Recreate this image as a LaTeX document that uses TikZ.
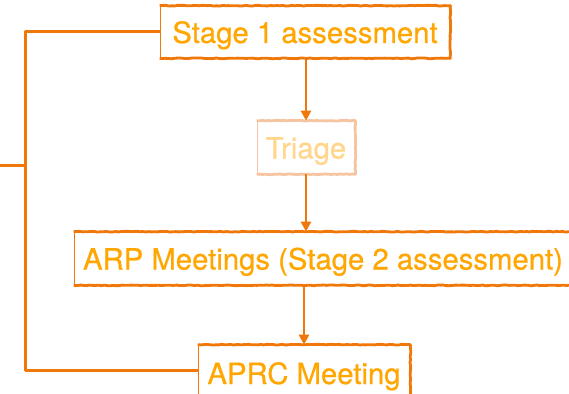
\documentclass[tikz,border=0pt]{standalone}
\usepackage{fontspec}
\setmainfont{TeX Gyre Heros}[FakeBold=0.6]
\usetikzlibrary{arrows.meta,decorations.pathmorphing}
\definecolor{lineC}{RGB}{240,120,10}
\definecolor{textC}{RGB}{255,166,0}
\definecolor{fadeLine}{RGB}{246,196,160}
\definecolor{fadeText}{RGB}{255,214,140}
\tikzset{
  boxx/.style={draw=lineC, line width=0.7pt, fill=white, text=textC, inner sep=0pt,
    text height=22pt, text depth=0pt,
    font=\fontsize{29.3}{32}\selectfont},
  edgeA/.style={draw=lineC, line width=2.8pt, line join=round,
    decorate, decoration={random steps, segment length=3pt, amplitude=0.4pt}},
  link/.style={draw=lineC, line width=2.8pt, -{Triangle[length=10pt,width=10pt]}},
  brk/.style={draw=lineC, line width=3pt, line join=round}
}
\begin{document}
\begin{tikzpicture}[x=1pt,y=-1pt]
\useasboundingbox (0,0) rectangle (569,393);
% nodes
\node[boxx, minimum width=290pt, minimum height=52pt] (s1) at (305,32) {Stage 1 assessment};
\node[boxx, draw=fadeLine, text=fadeText, minimum width=98pt, minimum height=53pt] (tri) at (306,147.5) {Triage};
\node[boxx, minimum width=498pt, minimum height=53pt] (arp) at (323,258.5) {ARP Meetings (Stage 2 assessment)};
\node[boxx, minimum width=212pt, minimum height=56pt] (aprc) at (304,373) {APRC Meeting};
% heavier sketch edges
\draw[edgeA] (s1.north west) -- (s1.north east) -- (s1.south east) -- (s1.south west);
\draw[edgeA, draw=fadeLine] (tri.north west) -- (tri.north east) -- (tri.south east) -- (tri.south west);
\draw[edgeA] (arp.north west) -- (arp.north east) -- (arp.south east) -- (arp.south west);
\draw[edgeA] (aprc.north west) -- (aprc.north east) -- (aprc.south east);
% arrows
\draw[link] (s1.south -| tri.north) -- (tri.north);
\draw[link] (tri.south) -- (tri.south |- arp.north);
\draw[link] (arp.south -| aprc.north) -- (aprc.north);
% bracket
\coordinate (bt) at (25,32);
\coordinate (bb) at (25,370);
\coordinate (bm) at (25,165);
\coordinate (stub) at (0,165);
\draw[brk] (s1.west) -- (bt) -- (bb) -- (aprc.west |- bb);
\draw[brk] (stub) -- (bm);
\end{tikzpicture}
\end{document}
